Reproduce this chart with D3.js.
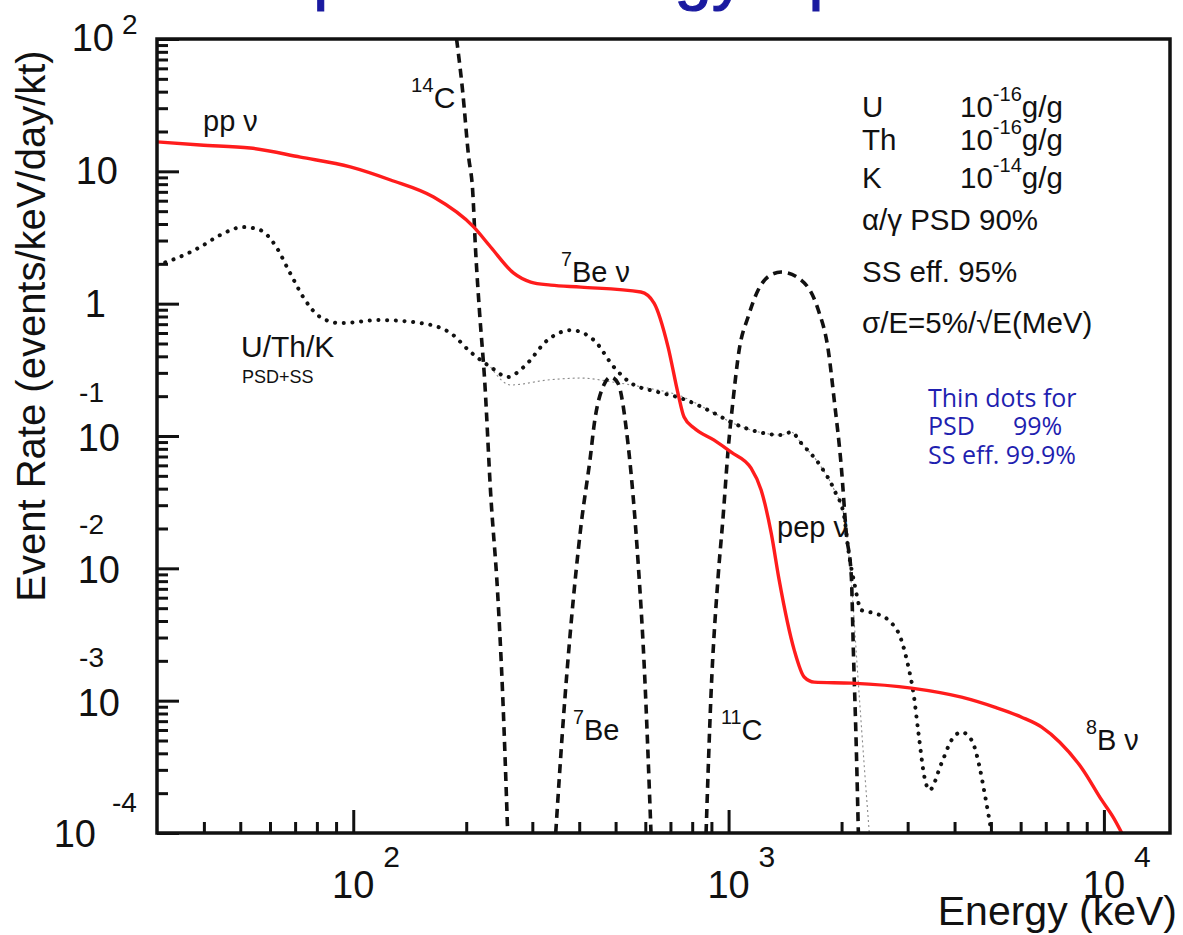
<!DOCTYPE html>
<html>
<head>
<meta charset="utf-8">
<script src="https://cdn.jsdelivr.net/npm/d3@7"></script>
<style>
  html, body { margin: 0; padding: 0; background: #fff; }
  svg { display: block; }
  text { font-family: "Liberation Sans", Arial, Helvetica, sans-serif; fill: #111; }
</style>
</head>
<body>
<svg id="chart" width="1183" height="935"></svg>
<script>
// ---- Spectra (energy in keV, rate in events/keV/day/kt) ----
// Total solar neutrino spectrum: pp, 7Be, pep, 8B
const solarEnergy = [30, 39.1, 53.1, 72.3, 98.2, 125.7, 163.7, 209.3, 232.3, 267.6, 297, 336, 404, 584, 633, 690, 733, 761, 809, 915, 1016, 1148, 1221, 1299, 1364, 1496, 1590, 1691, 2123, 3070, 4175, 5113, 6037, 6828, 7627, 8732, 9870, 10630, 11160];
const solarRate   = [16.7, 15.8, 15.0, 12.8, 10.8, 8.6, 6.39, 3.80, 2.68, 1.70, 1.456, 1.38, 1.334, 1.224, 1.01, 0.47, 0.211, 0.139, 0.115, 0.0931, 0.0755, 0.0571, 0.039, 0.01845, 0.00814, 0.00241, 0.00151, 0.00138, 0.001356, 0.001244, 0.001062, 0.000893, 0.00075, 0.000631, 0.000485, 0.000309, 0.000177, 0.000129, 0.0001];

// U/Th/K background after PSD 90% + SS 95%
const uthkEnergy = [30, 33.9, 39.1, 44.2, 50.9, 56.5, 61.9, 67.9, 74.5, 81.7, 92.4, 118.1, 151.1, 181.6, 205.4, 232.3, 257.9, 284.5, 329.6, 379.8, 437.5, 494.8, 549.4, 648.3, 746.8, 915, 1016, 1244, 1381, 1469, 1562, 1766, 1913, 2034, 2085, 2163, 2258, 2446, 2666, 2887, 3015, 3109, 3206, 3326, 3430, 3693, 3926, 4176, 4441, 4665, 4810, 5022];
const uthkRate   = [1.96, 2.21, 2.68, 3.30, 3.79, 3.60, 2.77, 1.70, 1.06, 0.792, 0.713, 0.752, 0.713, 0.600, 0.431, 0.332, 0.279, 0.332, 0.531, 0.631, 0.531, 0.332, 0.251, 0.215, 0.193, 0.149, 0.127, 0.105, 0.1016, 0.107, 0.0883, 0.0582, 0.039, 0.0244, 0.01374, 0.00773, 0.00483, 0.00458, 0.00406, 0.00286, 0.00179, 0.00114, 0.000568, 0.000264, 0.000211, 0.000337, 0.000503, 0.000578, 0.000503, 0.000314, 0.0002, 0.0001];

// U/Th/K background after PSD 99% + SS 99.9%
const uthkHiEnergy = [232.3, 262.7, 329.6, 404, 494.8, 610, 733, 915, 1016, 1244, 1381, 1469, 1562, 1766, 1913, 2034, 2085, 2124, 2217, 2300, 2371];
const uthkHiRate   = [0.332, 0.243, 0.265, 0.274, 0.255, 0.230, 0.204, 0.149, 0.127, 0.105, 0.1016, 0.107, 0.0883, 0.0582, 0.039, 0.0244, 0.01374, 0.00773, 0.001355, 0.000314, 0.0001];

// Cosmogenic / intrinsic backgrounds
const c14Energy = [188.5, 195.5, 203, 208, 211.8, 217.1, 223.9, 232.3, 242.5, 250, 257.9];
const c14Rate   = [100, 41.2, 12.8, 7.22, 2.54, 0.849, 0.265, 0.037, 0.0065, 0.00114, 0.0001];

const be7Energy = [346.3, 361.6, 379.8, 404, 429.5, 437.5, 465.2, 485.7, 507.1, 539.3, 573.5, 595, 621.3];
const be7Rate   = [0.0001, 0.000631, 0.0036, 0.0205, 0.0743, 0.1167, 0.2426, 0.2786, 0.251, 0.0883, 0.01153, 0.00202, 0.0001];

const c11Energy = [871, 898.2, 937.6, 966.8, 997, 1028, 1067, 1127, 1199, 1283, 1381, 1561, 1734, 1843, 1912, 1997, 2059, 2124, 2150, 2190, 2217];
const c11Rate   = [0.0001, 0.00114, 0.00857, 0.0244, 0.0782, 0.1866, 0.446, 0.792, 1.267, 1.62, 1.733, 1.507, 0.895, 0.446, 0.1866, 0.0582, 0.01845, 0.00857, 0.00241, 0.000423, 0.0001];

// Axis ticks
const xMajorTicks = [100, 1000, 10000];
const xMinorTicks = [40, 50, 60, 70, 80, 90, 200, 300, 400, 500, 600, 700, 800, 900, 2000, 3000, 4000, 5000, 6000, 7000, 8000, 9000];
const yMajorTicks = [1e-4, 1e-3, 1e-2, 1e-1, 1, 10, 100];
const yMajorExponents = [-4, -3, -2, -1, 0, 1, 2];
const xMajorExponents = [2, 3, 4];

// ---- Layout ----
const svg = d3.select("#chart");
const plot = { left: 157, top: 39, right: 1170, bottom: 833 };

const x = d3.scaleLog().domain([30, 15000]).range([plot.left, plot.right]);
const y = d3.scaleLog().domain([1e-4, 1e2]).range([plot.bottom, plot.top]);

const zip = (es, rs) => es.map((e, i) => ({ e, r: rs[i] }));
const line = d3.line().x(d => x(d.e)).y(d => y(d.r)).curve(d3.curveMonotoneX);

svg.append("defs").append("clipPath").attr("id", "plotClip")
  .append("rect")
  .attr("x", plot.left).attr("y", plot.top)
  .attr("width", plot.right - plot.left).attr("height", plot.bottom - plot.top);

// Title (runs off the top edge of the page)
svg.append("text")
  .attr("x", 235).attr("y", -3)
  .attr("font-size", 67)
  .style("fill", "#1a1aa0")
  .style("stroke", "#1a1aa0").style("stroke-width", 1.2)
  .text("Expected Energy Spectrum");

// ---- Curves ----
const curves = svg.append("g").attr("clip-path", "url(#plotClip)");

curves.append("path").datum(zip(uthkHiEnergy, uthkHiRate))
  .attr("d", line).attr("fill", "none")
  .attr("stroke", "#8a8a8a").attr("stroke-width", 1.1)
  .attr("stroke-dasharray", "2 3");

curves.append("path").datum(zip(uthkEnergy, uthkRate))
  .attr("d", line).attr("fill", "none")
  .attr("stroke", "#111").attr("stroke-width", 4)
  .attr("stroke-linecap", "round")
  .attr("stroke-dasharray", "0.1 8.6");

[[c14Energy, c14Rate], [be7Energy, be7Rate], [c11Energy, c11Rate]].forEach(([es, rs]) => {
  curves.append("path").datum(zip(es, rs))
    .attr("d", line).attr("fill", "none")
    .attr("stroke", "#111").attr("stroke-width", 3.6)
    .attr("stroke-dasharray", "9 6");
});

curves.append("path").datum(zip(solarEnergy, solarRate))
  .attr("d", line).attr("fill", "none")
  .attr("stroke", "#ff1c1c").attr("stroke-width", 3.4);

// ---- Axes (ticks point inward) ----
const axisStyle = g => {
  g.select(".domain").remove();
  g.selectAll(".tick line").attr("stroke", "#111").attr("stroke-width", 3);
};

svg.append("g").attr("transform", `translate(0,${plot.bottom})`)
  .call(d3.axisBottom(x).tickValues(xMajorTicks).tickSize(-23).tickFormat(() => ""))
  .call(axisStyle);
svg.append("g").attr("transform", `translate(0,${plot.bottom})`)
  .call(d3.axisBottom(x).tickValues(xMinorTicks).tickSize(-11).tickFormat(() => ""))
  .call(axisStyle);

const yMinorTicks = [];
yMajorTicks.slice(0, -1).forEach(v => { for (let k = 2; k <= 9; k++) yMinorTicks.push(v * k); });

svg.append("g").attr("transform", `translate(${plot.left},0)`)
  .call(d3.axisLeft(y).tickValues(yMajorTicks).tickSize(-22).tickFormat(() => ""))
  .call(axisStyle);
svg.append("g").attr("transform", `translate(${plot.left},0)`)
  .call(d3.axisLeft(y).tickValues(yMinorTicks).tickSize(-11).tickFormat(() => ""))
  .call(axisStyle);

// Frame
svg.append("rect")
  .attr("x", plot.left).attr("y", plot.top)
  .attr("width", plot.right - plot.left).attr("height", plot.bottom - plot.top)
  .attr("fill", "none").attr("stroke", "#111").attr("stroke-width", 3.5);

// ---- Tick labels ----
const labels = svg.append("g");

xMajorTicks.forEach((v, i) => {
  const px = x(v);
  labels.append("text").attr("x", px).attr("y", 898)
    .attr("text-anchor", "middle").attr("font-size", 38).text("10");
  labels.append("text").attr("x", px + 30).attr("y", 867)
    .attr("font-size", 30).text(xMajorExponents[i]);
});

yMajorTicks.forEach((v, i) => {
  const py = y(v);
  const ex = yMajorExponents[i];
  if (ex === 0) {
    labels.append("text").attr("x", 106).attr("y", py + 13)
      .attr("text-anchor", "end").attr("font-size", 38).text("1");
  } else if (ex === 1) {
    labels.append("text").attr("x", 118).attr("y", py + 13)
      .attr("text-anchor", "end").attr("font-size", 38).text("10");
  } else if (ex === 2) {
    labels.append("text").attr("x", 114).attr("y", py + 12)
      .attr("text-anchor", "end").attr("font-size", 38).text("10");
    labels.append("text").attr("x", 122).attr("y", py - 5)
      .attr("font-size", 28).text(ex);
  } else if (ex === -4) {
    labels.append("text").attr("x", 96).attr("y", py + 14)
      .attr("text-anchor", "end").attr("font-size", 38).text("10");
    labels.append("text").attr("x", 112).attr("y", py - 21)
      .attr("font-size", 28).text(ex);
  } else {
    labels.append("text").attr("x", 120).attr("y", py + 15)
      .attr("text-anchor", "end").attr("font-size", 38).text("10");
    labels.append("text").attr("x", 104).attr("y", py - 34)
      .attr("text-anchor", "end").attr("font-size", 28).text(ex);
  }
});

// Axis titles
svg.append("text")
  .attr("transform", "translate(45,326) rotate(-90)")
  .attr("text-anchor", "middle").attr("font-size", 40)
  .text("Event Rate (events/keV/day/kt)");

svg.append("text")
  .attr("x", 1177).attr("y", 925)
  .attr("text-anchor", "end").attr("font-size", 41)
  .text("Energy (keV)");

// ---- Annotations ----
function rich(xp, yp, size, parts, color) {
  const t = svg.append("text").attr("x", xp).attr("y", yp).attr("font-size", size);
  if (color) t.style("fill", color);
  let shift = 0;
  parts.forEach(p => {
    const target = p.sup ? -size * 0.55 : 0;
    const ts = t.append("tspan").text(p.t).attr("dy", target - shift);
    if (p.sup) ts.attr("font-size", size * 0.68);
    shift = target;
  });
  return t;
}

rich(203, 131, 29, [{ t: "pp ν" }]);
rich(411, 108, 30, [{ t: "14", sup: true }, { t: "C" }]);
rich(561, 282, 29, [{ t: "7", sup: true }, { t: "Be ν" }]);
rich(241, 357, 30, [{ t: "U/Th/K" }]);
rich(242, 383, 18, [{ t: "PSD+SS" }]);
rich(573, 740, 29, [{ t: "7", sup: true }, { t: "Be" }]);
rich(721, 740, 29, [{ t: "11", sup: true }, { t: "C" }]);
rich(777, 537, 29, [{ t: "pep ν" }]);
rich(1086, 750, 29, [{ t: "8", sup: true }, { t: "B ν" }]);

// Detector assumptions
const infoSize = 29.5;
[["U", "-16", 117], ["Th", "-16", 150], ["K", "-14", 188]].forEach(([el, ex, by]) => {
  svg.append("text").attr("x", 862).attr("y", by).attr("font-size", infoSize).text(el);
  rich(960, by, infoSize, [{ t: "10" }, { t: ex, sup: true }, { t: "g/g" }]);
});
svg.append("text").attr("x", 862).attr("y", 230).attr("font-size", infoSize).text("α/γ PSD 90%");
svg.append("text").attr("x", 862).attr("y", 282).attr("font-size", infoSize).text("SS eff. 95%");
svg.append("text").attr("x", 862).attr("y", 333).attr("font-size", infoSize).text("σ/E=5%/√E(MeV)");

// Note on the thin dotted curve
const noteColor = "#1f1fb0";
const noteFont = "'Open Sans', 'Noto Sans', sans-serif";
const note = svg.append("g");
note.append("text").attr("x", 928).attr("y", 407).attr("font-size", 25)
  .style("fill", noteColor).style("font-family", noteFont).text("Thin dots for");
note.append("text").attr("x", 928).attr("y", 435).attr("font-size", 25)
  .style("fill", noteColor).style("font-family", noteFont).text("PSD");
note.append("text").attr("x", 1013).attr("y", 435).attr("font-size", 25)
  .style("fill", noteColor).style("font-family", noteFont).text("99%");
note.append("text").attr("x", 928).attr("y", 464).attr("font-size", 25)
  .style("fill", noteColor).style("font-family", noteFont).text("SS eff. 99.9%");
</script>
</body>
</html>
